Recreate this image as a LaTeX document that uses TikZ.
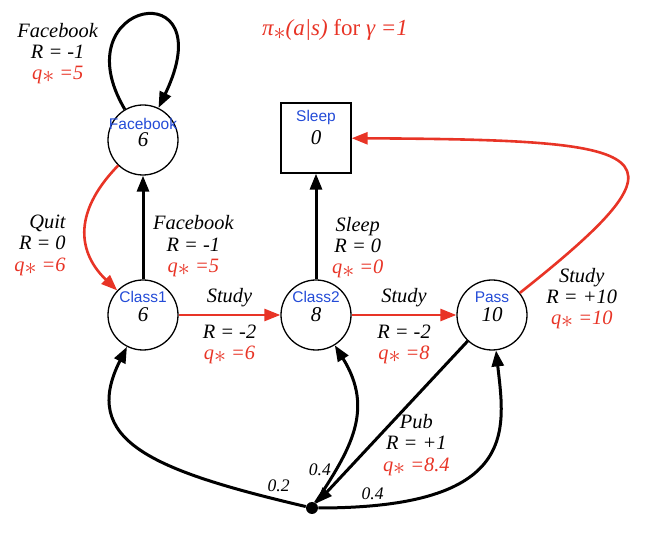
\documentclass[tikz,border=0pt]{standalone}
\usepackage{fontspec}
\setmainfont{Liberation Serif}
\newfontfamily\namefont{Liberation Sans}
\usepackage{xcolor}
\usepackage{tikz}
\usetikzlibrary{arrows.meta,positioning}

\definecolor{optred}{RGB}{232,52,38}
\definecolor{nameblue}{RGB}{35,75,215}

\newcommand{\optstar}{\raisebox{-0.35ex}[0pt][0pt]{\large$\ast$}}
\newcommand{\qval}[1]{\textcolor{optred}{q\optstar\ =#1}}

\tikzset{
  state/.style={circle, draw, line width=0.65pt, minimum size=35pt, inner sep=0pt,
    font=\fontsize{10.5}{11}\selectfont\itshape},
  terminal/.style={state, rectangle},
  statename/.style={text=nameblue, inner sep=0pt, font=\namefont\fontsize{7.75}{8}\selectfont},
  act/.style={align=center, font=\fontsize{10.2}{10.6}\selectfont\itshape},
  prob/.style={font=\fontsize{8.8}{9}\selectfont\itshape, inner sep=2pt},
  pubdot/.style={circle, fill, minimum size=6pt, inner sep=0pt},
  move/.style={line width=1.5pt, -{Triangle[length=8pt,width=6pt]}},
  best/.style={move, draw=optred, line width=1.3pt}
}

\begin{document}
\begin{tikzpicture}[x=0.5pt, y=-0.5pt]
    \useasboundingbox (0,0) rectangle (660,534);
    \node[state] (fb) at (143,140) {6};
    \node[terminal] (sleep) at (316,138) {0};
    \node[state] (c1) at (143,315) {6};
    \node[state] (c2) at (316,315) {8};
    \node[state] (pass) at (492,315) {10};
    \node[pubdot] (pub) at (312,508) {};
    \node[statename] (fbname) at ([yshift=8pt]fb.center) {Facebook};
    \node[statename] (sleepname) at ([yshift=10.5pt]sleep.center) {Sleep};
    \node[statename] (c1name) at ([yshift=9pt]c1.center) {Class1};
    \node[statename] (c2name) at ([yshift=9pt]c2.center) {Class2};
    \node[statename] (passname) at ([yshift=9pt]pass.center) {Pass};
    \node[act, text=optred, font=\fontsize{11.5}{12}\selectfont\itshape] (policy) at (335,30)
        {π\optstar(a|s) \upshape for \itshape γ =1};

    \draw[move] (fb) .. controls (60,0) and (225,-30) .. (fb)
        node[act, pos=0.25, left=3pt, yshift=-5pt] (fbloop) {Facebook\\R = -1\\\qval{5}};
    \draw[best] (fb) .. controls (70,215) and (80,255) .. (c1)
        node[act, pos=0.6, left=7pt, align=right] (quit) {Quit\\R = 0\\\qval{6}};
    \draw[move] (c1) -- (fb) node[act, pos=0.32, right=1pt] (fbact) {Facebook\\R = -1\\\qval{5}};
    \draw[best] (c1) -- (c2) node[act, midway, above] (study1) {Study}
        node[act, midway, below=1pt] (study1q) {R = -2\\\qval{6}};
    \draw[move] (c2) -- (sleep) node[act, pos=0.3, right=4pt] (sleepact) {Sleep\\R = 0\\\qval{0}};
    \draw[best] (c2) -- (pass) node[act, midway, above] (study2) {Study}
        node[act, midway, below=1pt] (study2q) {R = -2\\\qval{8}};
    \draw[best] (pass) .. controls (700,150) and (660,140) .. (sleep)
        node[act, pos=0.02, right=4pt, yshift=-7pt] (study3) {Study\\R = +10\\\qval{10}};
    \draw[move] (pass) -- (pub) node[act, pos=0.64, right=2pt] (pubact) {Pub\\R = +1\\\qval{8.4}};
    \draw[move] (pub) .. controls (150,470) and (80,440) .. (c1) node[prob, pos=0.06, above=1.5pt] (p1) {0.2};
    \draw[move] (pub) .. controls (350,450) and (375,410) .. (c2) node[prob, pos=0.22, left] (p2) {0.4};
    \draw[move] (pub) .. controls (520,508) and (505,430) .. (pass) node[prob, pos=0.1, above] (p3) {0.4};
\end{tikzpicture}
\end{document}
